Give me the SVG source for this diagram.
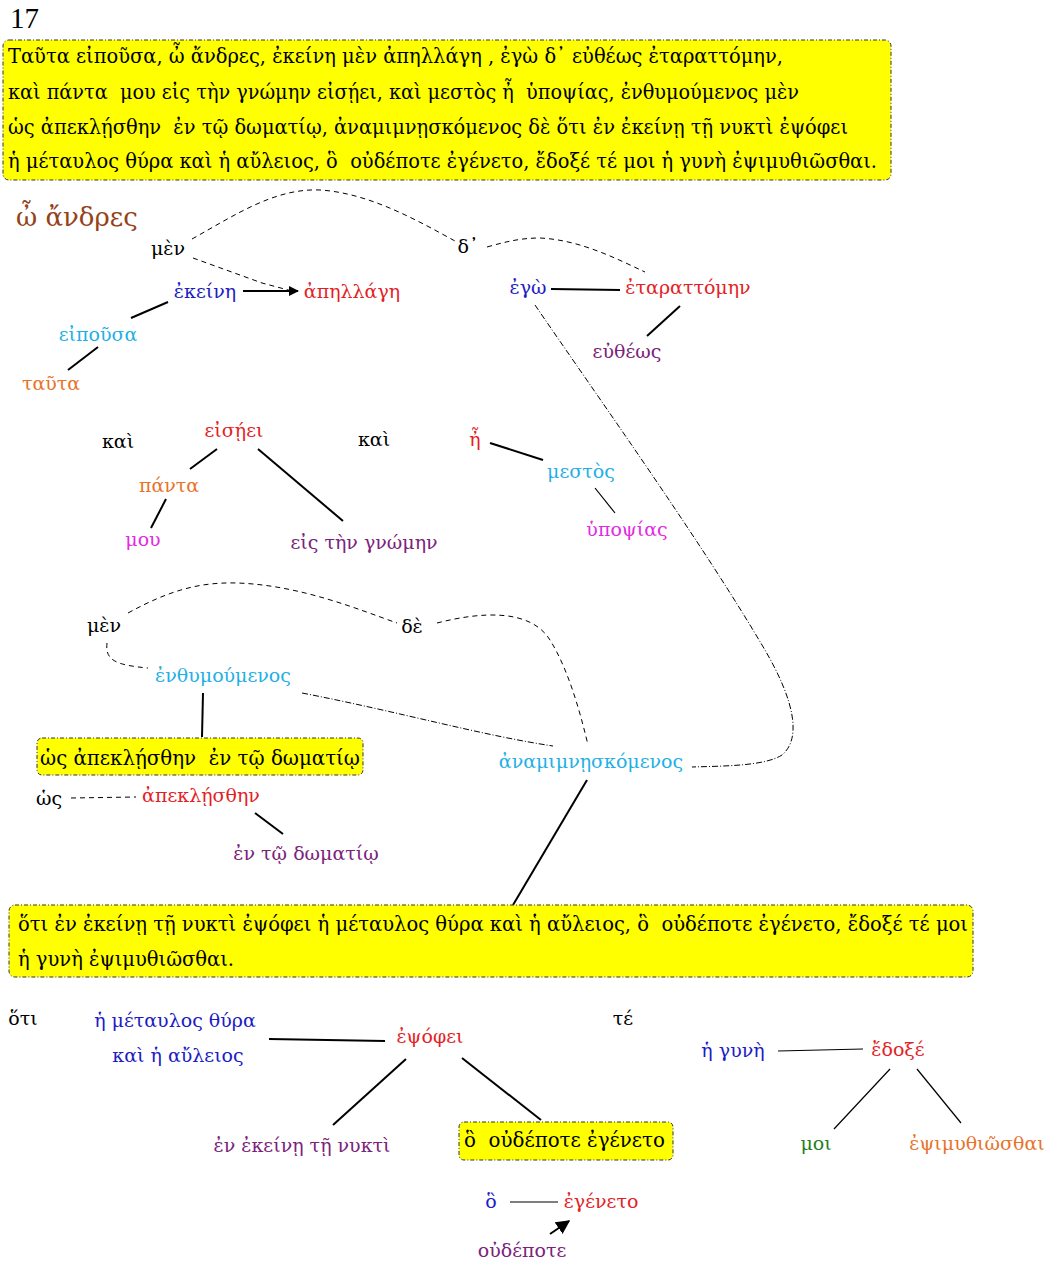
<svg xmlns="http://www.w3.org/2000/svg" width="1057" height="1265" viewBox="0 0 1057 1265">
<style>
text{font-family:"DejaVu Serif","Liberation Serif",serif;font-size:19px;white-space:pre}
.bx{font-size:20px}
.n{text-anchor:middle}
.k{fill:#000}
.bl{fill:#1c1cc4}
.rd{fill:#e41e26}
.cy{fill:#1fb0e6}
.or{fill:#e8732a}
.pu{fill:#7b237b}
.mg{fill:#e22be2}
.gr{fill:#1f7f1f}
.br{fill:#94421a}
.box{fill:#ffff00;stroke:#333;stroke-width:1;stroke-dasharray:4 2 1 2}
.s{stroke:#000;stroke-width:2;fill:none}
.t{stroke:#000;stroke-width:1.2;fill:none}
.d{stroke:#000;stroke-width:1;fill:none;stroke-dasharray:5 4}
.dd{stroke:#000;stroke-width:1;fill:none;stroke-dasharray:6 2 1 2}
</style>
<defs>
<marker id="ah" viewBox="0 0 10 10" refX="9" refY="5" markerWidth="5" markerHeight="5" orient="auto" markerUnits="strokeWidth">
<path d="M0,0 L10,5 L0,10 z" fill="#000"/>
</marker>
<marker id="ah2" viewBox="0 0 10 10" refX="9" refY="5" markerWidth="7" markerHeight="7" orient="auto" markerUnits="strokeWidth">
<path d="M0,0 L10,5 L0,10 z" fill="#000"/>
</marker>
</defs>

<text x="10" y="28" style="font-family:'Liberation Serif',serif;font-size:29px">17</text>

<g id="box-main">
<rect class="box" x="3" y="40" width="888" height="140" rx="6"/>
<text class="bx" x="8" y="63" textLength="775" lengthAdjust="spacingAndGlyphs">Ταῦτα εἰποῦσα, ὦ ἄνδρες, ἐκείνη μὲν ἀπηλλάγη , ἐγὼ δ᾽ εὐθέως ἐταραττόμην,</text>
<text class="bx" x="8" y="99" textLength="791" lengthAdjust="spacingAndGlyphs">καὶ πάντα  μου εἰς τὴν γνώμην εἰσῄει, καὶ μεστὸς ἦ  ὑποψίας, ἐνθυμούμενος μὲν</text>
<text class="bx" x="8" y="134" textLength="840" lengthAdjust="spacingAndGlyphs">ὡς ἀπεκλῄσθην  ἐν τῷ δωματίῳ, ἀναμιμνῃσκόμενος δὲ ὅτι ἐν ἐκείνῃ τῇ νυκτὶ ἐψόφει</text>
<text class="bx" x="8" y="168" textLength="869" lengthAdjust="spacingAndGlyphs">ἡ μέταυλος θύρα καὶ ἡ αὔλειος, ὃ  οὐδέποτε ἐγένετο, ἔδοξέ τέ μοι ἡ γυνὴ ἐψιμυθιῶσθαι.</text>
</g>

<g id="connectors">
<path class="d" d="M192,239 C235,215 275,188 320,190 C370,193 420,222 455,241"/>
<path class="d" d="M487,247 C505,242 520,238 540,238 C580,240 615,258 645,272"/>
<path class="d" d="M193,258 L262,283 L292,291"/>
<line class="s" x1="243" y1="291" x2="298" y2="291" stroke-width="2.5" marker-end="url(#ah)"/>
<line class="s" x1="168" y1="302" x2="131" y2="318"/>
<line class="s" x1="98" y1="347" x2="68" y2="370"/>
<line class="s" x1="551" y1="289" x2="620" y2="290"/>
<line class="s" x1="680" y1="306" x2="647" y2="336"/>
<path class="dd" d="M535,305 C600,400 700,540 762,645 C798,705 800,740 782,755 C765,766 725,766 692,767"/>
<line class="s" x1="217" y1="449" x2="190" y2="469"/>
<line class="s" x1="258" y1="449" x2="343" y2="521"/>
<line class="s" x1="166" y1="499" x2="151" y2="528"/>
<line class="s" x1="490" y1="443" x2="543" y2="460"/>
<line class="t" x1="595" y1="488" x2="615" y2="513"/>
<path class="d" d="M128,613 C170,590 200,582 237,583 C300,585 360,610 397,623"/>
<path class="d" d="M437,623 C480,612 530,608 550,640 C570,672 582,720 588,745"/>
<path class="d" d="M107,643 C105,660 115,665 148,668"/>
<path class="dd" d="M302,693 C400,712 480,735 553,746"/>
<line class="s" x1="203" y1="693" x2="202" y2="737"/>
<line class="d" x1="71" y1="798" x2="136" y2="797"/>
<line class="s" x1="255" y1="813" x2="283" y2="834"/>
<line class="s" x1="587" y1="780" x2="513" y2="905"/>
<line class="s" x1="269" y1="1039" x2="385" y2="1041" stroke-width="3"/>
<line class="s" x1="406" y1="1059" x2="333" y2="1125"/>
<line class="s" x1="462" y1="1058" x2="541" y2="1120"/>
<line class="t" x1="510" y1="1202" x2="558" y2="1202"/>
<line class="s" x1="550" y1="1234" x2="569" y2="1221" stroke-width="1.5" marker-end="url(#ah2)"/>
<line class="t" x1="778" y1="1051" x2="863" y2="1049"/>
<line class="t" x1="890" y1="1069" x2="834" y2="1129"/>
<line class="t" x1="917" y1="1069" x2="961" y2="1123"/>
</g>

<g id="n-andres"><text x="16" y="226" class="br" style="font-size:26px">ὦ ἄνδρες</text></g>
<g id="n-men1"><text x="168" y="255" class="n k">μὲν</text></g>
<g id="n-de1"><text x="468" y="253" class="n k">δ᾽</text></g>
<g id="n-ekeine"><text x="205" y="298" class="n bl">ἐκείνη</text></g>
<g id="n-apellage"><text x="352" y="298" class="n rd">ἀπηλλάγη</text></g>
<g id="n-eipousa"><text x="98" y="341" class="n cy">εἰποῦσα</text></g>
<g id="n-tauta"><text x="51" y="390" class="n or">ταῦτα</text></g>
<g id="n-ego"><text x="528" y="294" class="n bl">ἐγὼ</text></g>
<g id="n-etarattomen"><text x="688" y="294" class="n rd">ἐταραττόμην</text></g>
<g id="n-eutheos"><text x="627" y="358" class="n pu">εὐθέως</text></g>
<g id="n-kai1"><text x="118" y="448" class="n k">καὶ</text></g>
<g id="n-eiseei"><text x="234" y="437" class="n rd">εἰσῄει</text></g>
<g id="n-kai2"><text x="374" y="446" class="n k">καὶ</text></g>
<g id="n-e"><text x="475" y="446" class="n rd">ἦ</text></g>
<g id="n-mestos"><text x="581" y="478" class="n cy">μεστὸς</text></g>
<g id="n-hypopsias"><text x="627" y="536" class="n mg">ὑποψίας</text></g>
<g id="n-panta"><text x="169" y="492" class="n or">πάντα</text></g>
<g id="n-mou"><text x="143" y="546" class="n mg">μου</text></g>
<g id="n-gnomen"><text x="364" y="549" class="n pu">εἰς τὴν γνώμην</text></g>
<g id="n-men2"><text x="104" y="632" class="n k">μὲν</text></g>
<g id="n-de2"><text x="412" y="633" class="n k">δὲ</text></g>
<g id="n-enthymoumenos"><text x="223" y="682" class="n cy">ἐνθυμούμενος</text></g>
<g id="box-hos">
<rect class="box" x="37" y="738" width="326" height="37" rx="5"/>
<text class="bx" x="40" y="765" textLength="320" lengthAdjust="spacingAndGlyphs">ὡς ἀπεκλῄσθην  ἐν τῷ δωματίῳ</text>
</g>
<g id="n-hos"><text x="49" y="805" class="n k">ὡς</text></g>
<g id="n-apekleisthen"><text x="201" y="802" class="n rd">ἀπεκλῄσθην</text></g>
<g id="n-domatio"><text x="306" y="860" class="n pu">ἐν τῷ δωματίῳ</text></g>
<g id="n-anamimneskomenos"><text x="591" y="768" class="n cy">ἀναμιμνῃσκόμενος</text></g>

<g id="box-hoti">
<rect class="box" x="9" y="905" width="964" height="72" rx="6"/>
<text class="bx" x="18" y="931" textLength="950" lengthAdjust="spacingAndGlyphs">ὅτι ἐν ἐκείνῃ τῇ νυκτὶ ἐψόφει ἡ μέταυλος θύρα καὶ ἡ αὔλειος, ὃ  οὐδέποτε ἐγένετο, ἔδοξέ τέ μοι</text>
<text class="bx" x="18" y="966" textLength="216" lengthAdjust="spacingAndGlyphs">ἡ γυνὴ ἐψιμυθιῶσθαι.</text>
</g>
<g id="n-hoti"><text x="23" y="1025" class="n k">ὅτι</text></g>
<g id="n-thyra"><text x="175" y="1027" class="n bl">ἡ μέταυλος θύρα</text><text x="178" y="1062" class="n bl">καὶ ἡ αὔλειος</text></g>
<g id="n-epsophei"><text x="430" y="1043" class="n rd">ἐψόφει</text></g>
<g id="n-te"><text x="623" y="1025" class="n k">τέ</text></g>
<g id="n-gyne"><text x="733" y="1057" class="n bl">ἡ γυνὴ</text></g>
<g id="n-edoxe"><text x="898" y="1056" class="n rd">ἔδοξέ</text></g>
<g id="n-nykti"><text x="302" y="1152" class="n pu">ἐν ἐκείνῃ τῇ νυκτὶ</text></g>
<g id="box-ho">
<rect class="box" x="459" y="1122" width="214" height="38" rx="5"/>
<text class="bx" x="464" y="1147" textLength="201" lengthAdjust="spacingAndGlyphs">ὃ  οὐδέποτε ἐγένετο</text>
</g>
<g id="n-moi"><text x="816" y="1150" class="n gr">μοι</text></g>
<g id="n-epsimythiosthai"><text x="977" y="1150" class="n or">ἐψιμυθιῶσθαι</text></g>
<g id="n-ho"><text x="491" y="1208" class="n bl">ὃ</text></g>
<g id="n-egeneto"><text x="601" y="1208" class="n rd">ἐγένετο</text></g>
<g id="n-oudepote"><text x="522" y="1257" class="n pu">οὐδέποτε</text></g>
</svg>
